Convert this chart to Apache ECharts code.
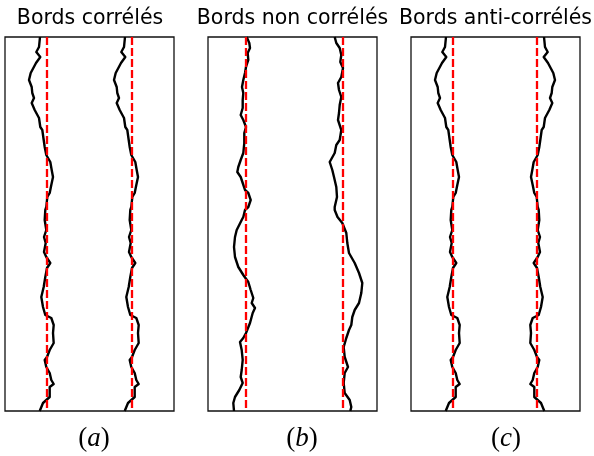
<!DOCTYPE html>
<html>
<head>
<meta charset="utf-8">
<script src="https://cdn.jsdelivr.net/npm/echarts@6/dist/echarts.min.js"></script>
<style>
    html, body { margin: 0; padding: 0; background: #fff; }
    #chart { width: 594px; height: 456px; }
</style>
</head>
<body>
<div id="chart"></div>
<script>
// panel titles and sub-captions
var titles = ['Bords corrélés', 'Bords non corrélés', 'Bords anti-corrélés'];
var captions = ['a', 'b', 'c'];

// edge profile shared by panels (a) and (c): position along the edge (from top) and deviation from the mean line
var posA = [0, 10, 15, 20, 26, 36, 43, 50, 56, 61, 66, 73, 81, 90, 93, 103, 110, 118, 125, 133,
    140, 148, 156, 160, 170, 173, 183, 193, 200, 206, 215, 220, 226, 231, 240, 250, 260, 270, 278, 281,
    288, 296, 306, 313, 320, 323, 330, 336, 343, 347, 350, 360, 366, 374];
var devA = [-7, -8, -10.7, -6.7, -11, -16.3, -18, -15.3, -14.7, -13, -15.3, -12.3, -8, -6.7, -4.7, -3.3, -2.3, -0.7, 3.3, 4.7,
    6, 4.3, 2.7, 0.3, -0.7, -1.7, -2.3, -0.7, -3, -1.3, -3, -0.7, 3.3, 0, -1.7, -3.3, -5.7, -4, -1.7, 4.3,
    6.7, 6, 6.7, 2.7, 0, -2.3, -0.7, 2.7, 4.3, 6.7, 2.7, 2.7, -4, -7.3];

// panel (b): two independent edges
var posBLeft = [0, 6, 11, 16, 23, 30, 36, 43, 50, 56, 63, 71, 78, 83, 90, 96, 106, 116, 123, 130,
    135, 140, 146, 153, 156, 163, 170, 173, 180, 183, 193, 200, 210, 220, 230, 238, 245, 253, 261, 266,
    271, 276, 286, 296, 301, 305, 313, 323, 333, 340, 346, 353, 360, 366, 374];
var devBLeft = [0.7, 3.3, 4, 1.7, 2.3, 0, -1, -2.7, -4, -2.7, -3.3, -3.3, -5.3, -2.7, 0, -1.7, -1.7, -2.7, -5.3, -7.7,
    -8.7, -5.3, -3.3, -1, 2.3, 4.7, 2.3, -1, -2.7, -4.3, -9.3, -11, -12, -11, -7.7, -2.7, 2.3, 4.7, 7.3, 5.7,
    9, 6.7, 4, 0, -2.7, -6, -4.3, -3.3, -4.3, -5.3, -3.3, -6.7, -11, -12.7, -12];
var posBRight = [0, 6, 11, 18, 25, 31, 40, 46, 53, 60, 68, 76, 83, 93, 103, 108, 116, 125, 133, 140,
    150, 160, 170, 173, 180, 186, 196, 206, 216, 226, 236, 246, 256, 266, 273, 280, 288, 293, 301, 310,
    320, 330, 336, 346, 356, 363, 370, 374];
var devBRight = [-8.3, -6.7, -3.3, -1.7, -2.7, 0, -1.7, -5, -4, -1.7, -3.3, -4, -5, -1.7, -3.3, -6.7, -8.3, -13.3, -10.7, -9,
    -6.7, -6, -8.3, -8.3, -5.5, -0.7, 3.3, 4.3, 6, 11.7, 16, 19.3, 18.3, 16, 11.7, 9.3, 8.3, 6, 3.3, 0.7,
    1.7, 5, 1.7, 0.7, 1.7, 6.7, 8.3, 7.3];

// mean edge positions (red dashed lines), across a panel 169 wide
var meanLines = [[42, 127], [38, 135], [42, 126]];

var panelLeft = [5, 208, 411];
var titleCenter = [90, 292.5, 495.5];
var captionCenter = [94, 302, 506];

function edge(pos, dev, mean, sign) {
    var pts = [];
    for (var i = 0; i < pos.length; i++) {
        pts.push([mean + sign * dev[i], pos[i]]);
    }
    return pts;
}

var edges = [
    [edge(posA, devA, meanLines[0][0], 1), edge(posA, devA, meanLines[0][1], 1)],
    [edge(posBLeft, devBLeft, meanLines[1][0], 1), edge(posBRight, devBRight, meanLines[1][1], 1)],
    [edge(posA, devA, meanLines[2][0], 1), edge(posA, devA, meanLines[2][1], -1)]
];

var myChart = echarts.init(document.getElementById('chart'));

var grid = [], xAxis = [], yAxis = [], series = [], title = [];

for (var p = 0; p < 3; p++) {
    grid.push({
        left: panelLeft[p], top: 37, width: 169, height: 374,
        show: true, borderColor: '#111', borderWidth: 1.3, backgroundColor: '#fff'
    });
    xAxis.push({ gridIndex: p, type: 'value', min: 0, max: 169, show: false });
    yAxis.push({ gridIndex: p, type: 'value', min: 0, max: 374, inverse: true, show: false });

    for (var e = 0; e < 2; e++) {
        series.push({
            type: 'line', xAxisIndex: p, yAxisIndex: p,
            data: edges[p][e], showSymbol: false, symbol: 'none', z: 2,
            lineStyle: { color: '#000', width: 2.4, join: 'round' }
        });
        series.push({
            type: 'line', xAxisIndex: p, yAxisIndex: p,
            data: [[meanLines[p][e], 0], [meanLines[p][e], 374]], showSymbol: false, symbol: 'none', z: 3,
            lineStyle: { color: '#ff0000', width: 2.3, type: [8, 3] }
        });
    }

    title.push({
        text: titles[p], left: titleCenter[p], top: 8, textAlign: 'center', padding: 0,
        textStyle: { fontFamily: 'DejaVu Sans', fontSize: 20.5, fontWeight: 'normal', color: '#000' }
    });
    title.push({
        text: '{p|(}{i|' + captions[p] + '}{p|)}', left: captionCenter[p], top: 425, textAlign: 'center', padding: 0,
        textStyle: {
            fontWeight: 'normal',
            rich: {
                p: { fontFamily: 'Liberation Serif', fontSize: 27, fontWeight: 'normal', color: '#000' },
                i: { fontFamily: 'Liberation Serif', fontStyle: 'italic', fontSize: 27, fontWeight: 'normal', color: '#000' }
            }
        }
    });
}

var option = {
    animation: false,
    backgroundColor: '#fff',
    title: title,
    grid: grid,
    xAxis: xAxis,
    yAxis: yAxis,
    series: series
};

myChart.setOption(option);
</script>
</body>
</html>
